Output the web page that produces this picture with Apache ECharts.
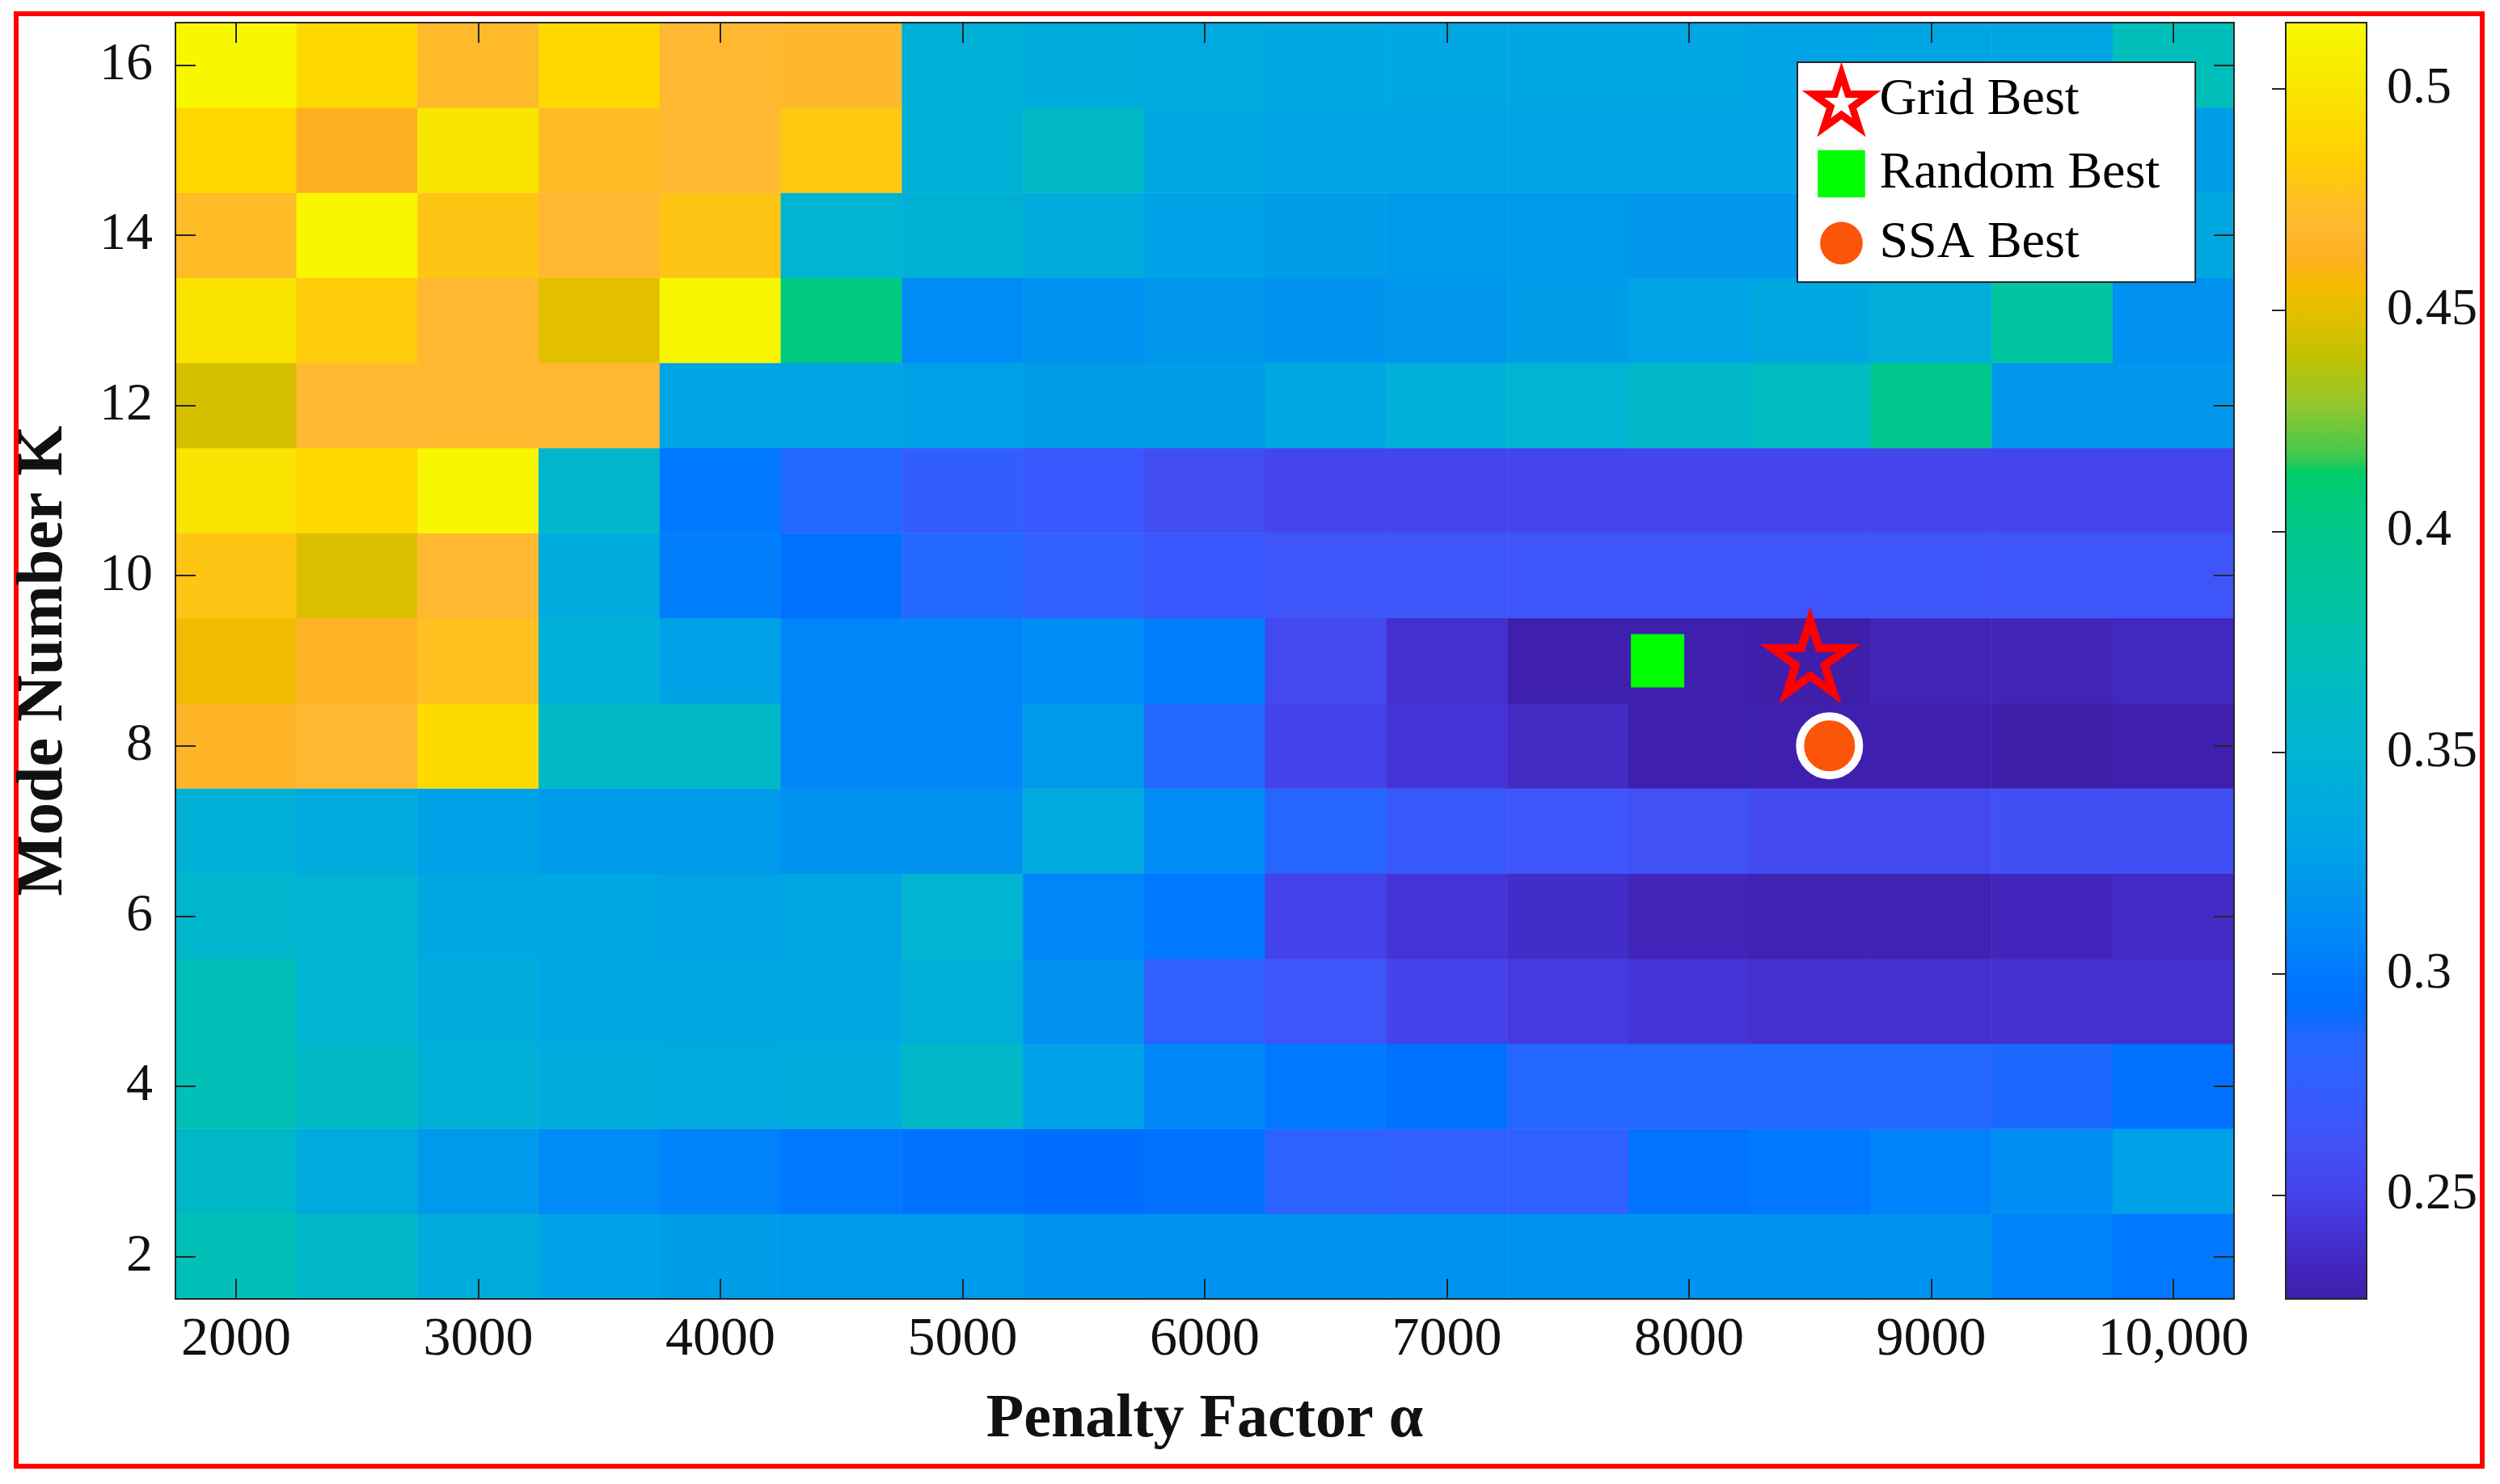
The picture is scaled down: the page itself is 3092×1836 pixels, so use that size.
<!DOCTYPE html>
<html>
<head>
<meta charset="utf-8">
<script src="https://cdn.jsdelivr.net/npm/echarts@6/dist/echarts.min.js"></script>
<style>
html,body{margin:0;padding:0;background:#fff;}
#chart{width:3092px;height:1836px;}
</style>
</head>
<body>
<div id="chart"></div>
<script>
// ---------- data ----------
const alphaValues = [2000,2500,3000,3500,4000,4500,5000,5500,6000,6500,7000,7500,8000,8500,9000,9500,10000];
const kValues = [2,3,4,5,6,7,8,9,10,11,12,13,14,15,16];
const xTickText = ['2000','3000','4000','5000','6000','7000','8000','9000','10,000'];
const cbarTicks = [0.25,0.3,0.35,0.4,0.45,0.5];

// values per mode number K, one entry per alpha
const k2  = [0.372,0.358,0.340,0.328,0.325,0.322,0.322,0.318,0.316,0.316,0.316,0.316,0.316,0.316,0.316,0.305,0.300];
const k3  = [0.358,0.337,0.322,0.310,0.305,0.300,0.295,0.292,0.295,0.280,0.278,0.278,0.296,0.300,0.305,0.313,0.327];
const k4  = [0.372,0.360,0.345,0.340,0.337,0.340,0.358,0.328,0.308,0.300,0.295,0.285,0.285,0.285,0.285,0.288,0.295];
const k5  = [0.372,0.350,0.340,0.335,0.332,0.335,0.342,0.315,0.277,0.265,0.250,0.246,0.243,0.240,0.240,0.240,0.240];
const k6  = [0.355,0.350,0.335,0.332,0.330,0.332,0.350,0.308,0.300,0.250,0.243,0.238,0.232,0.230,0.230,0.233,0.237];
const k7  = [0.345,0.337,0.328,0.322,0.322,0.316,0.316,0.337,0.310,0.283,0.270,0.265,0.262,0.256,0.256,0.260,0.260];
const k8  = [0.465,0.468,0.492,0.360,0.360,0.308,0.308,0.322,0.285,0.250,0.243,0.236,0.228,0.228,0.228,0.226,0.228];
const k9  = [0.455,0.465,0.475,0.345,0.328,0.307,0.307,0.310,0.303,0.255,0.240,0.228,0.228,0.227,0.232,0.232,0.235];
const k10 = [0.478,0.447,0.468,0.340,0.303,0.295,0.285,0.277,0.268,0.265,0.265,0.265,0.265,0.265,0.265,0.265,0.265];
const k11 = [0.498,0.490,0.513,0.355,0.300,0.285,0.275,0.268,0.258,0.252,0.252,0.252,0.252,0.252,0.252,0.252,0.252];
const k12 = [0.445,0.468,0.468,0.468,0.330,0.330,0.328,0.325,0.325,0.335,0.345,0.350,0.357,0.365,0.400,0.320,0.320];
const k13 = [0.498,0.482,0.468,0.450,0.513,0.405,0.310,0.316,0.320,0.318,0.320,0.325,0.330,0.335,0.343,0.385,0.315];
const k14 = [0.472,0.513,0.478,0.468,0.478,0.350,0.347,0.340,0.328,0.325,0.322,0.322,0.320,0.320,0.320,0.322,0.335];
const k15 = [0.490,0.462,0.500,0.472,0.468,0.480,0.345,0.360,0.335,0.330,0.330,0.330,0.330,0.330,0.330,0.330,0.325];
const k16 = [0.514,0.490,0.470,0.490,0.468,0.467,0.345,0.340,0.338,0.335,0.333,0.333,0.333,0.330,0.332,0.332,0.370];
const rowsByK = [k2,k3,k4,k5,k6,k7,k8,k9,k10,k11,k12,k13,k14,k15,k16];

// best points [alpha, K]
const gridBest = [[8500, 9]];
const randomBest = [[7870, 9]];
const ssaBest = [[8580, 8]];

const vmin = 0.2265, vmax = 0.515;

// colour map (value, colour)
const cmapStops = [
  [0.2265,'#3e1ea8'],[0.228,'#3f20ae'],[0.235,'#4328c0'],[0.243,'#4434d8'],
  [0.250,'#4442ea'],[0.256,'#434aef'],[0.262,'#4052f6'],[0.268,'#3a58fd'],
  [0.277,'#3060ff'],[0.284,'#2666ff'],[0.288,'#1c68ff'],[0.292,'#006eff'],
  [0.300,'#0078ff'],[0.308,'#0088f8'],[0.316,'#0092f0'],[0.322,'#009aea'],
  [0.330,'#00a4e6'],[0.340,'#00acdc'],[0.350,'#00b4d2'],[0.360,'#00b8c6'],
  [0.372,'#00c0b8'],[0.385,'#00c4a0'],[0.400,'#00c88c'],[0.413,'#00cc6c'],
  [0.417,'#40c84c'],[0.428,'#90c830'],[0.440,'#c4c000'],[0.447,'#dcc000'],
  [0.455,'#f2bc00'],[0.462,'#ffb020'],[0.468,'#ffb830'],[0.475,'#ffc020'],
  [0.482,'#ffcc08'],[0.490,'#ffd800'],[0.500,'#f8e600'],[0.515,'#f8f800']
];

function hex2rgb(h){return [parseInt(h.slice(1,3),16),parseInt(h.slice(3,5),16),parseInt(h.slice(5,7),16)];}
function cmap(v){
  if (v <= cmapStops[0][0]) return cmapStops[0][1];
  for (let i=1;i<cmapStops.length;i++){
    if (v <= cmapStops[i][0]){
      const a=cmapStops[i-1], b=cmapStops[i];
      const t=(v-a[0])/(b[0]-a[0]);
      const ca=hex2rgb(a[1]), cb=hex2rgb(b[1]);
      const c=ca.map((x,j)=>Math.round(x+(cb[j]-x)*t));
      return 'rgb('+c.join(',')+')';
    }
  }
  return cmapStops[cmapStops.length-1][1];
}
const sampled = [];
for (let i=0;i<=300;i++){ sampled.push(cmap(vmin+(vmax-vmin)*i/300)); }
const gradStops = cmapStops.map(s=>({offset:Math.min(1,Math.max(0,(s[0]-vmin)/(vmax-vmin))), color:s[1]}));

const heatData = [];
rowsByK.forEach((row, yi)=>{ row.forEach((v, xi)=>{ heatData.push([xi, yi, v]); }); });

const FONT = 'Liberation Serif';
const AX = '#262626';
const starPath = 'path://M0,-100L22.45,-30.9L95.11,-30.9L36.33,11.8L58.78,80.9L0,38.2L-58.78,80.9L-36.33,11.8L-95.11,-30.9L-22.45,-30.9Z';
const starIcon = 'path://M-114,-118M114,99M0,-100L22.45,-30.9L95.11,-30.9L36.33,11.8L58.78,80.9L0,38.2L-58.78,80.9L-36.33,11.8L-95.11,-30.9L-22.45,-30.9Z';
const squareIcon = 'path://M-11,-11M71,71M0,0H60V60H0Z';
const circleIcon = 'path://M-14,-14M68,68M0,27A27,27,0,1,1,54,27A27,27,0,1,1,0,27Z';

const plot = {left:217, top:28, width:2546, height:1579};
const xCats = alphaValues.map(String);
const yCats = kValues.map(String);

const catTick = {show:true, inside:true, length:25, interval:1, alignWithLabel:true, lineStyle:{color:AX, width:2}};

const option = {
  animation:false,
  backgroundColor:'#fff',
  graphic:[{type:'rect', z:-1, shape:{x:20,y:17,width:3050,height:1797}, style:{fill:'none', stroke:'#ff0000', lineWidth:6}}],
  grid:[
    Object.assign({}, plot),
    Object.assign({}, plot),
    {left:2827, top:28, width:100, height:1579}
  ],
  visualMap:{type:'continuous', show:false, min:vmin, max:vmax, seriesIndex:0, dimension:2, inRange:{color:sampled}},
  xAxis:[
    {type:'category', gridIndex:0, data:xCats, position:'bottom', z:10,
     axisLine:{show:true, lineStyle:{color:AX, width:2}}, axisTick:catTick,
     axisLabel:{interval:1, fontFamily:FONT, fontSize:68, color:'#111', margin:17,
       formatter:(v, idx)=> (idx%2===0 ? xTickText[idx/2] : '')},
     splitLine:{show:false},
     name:'Penalty Factor α', nameLocation:'middle', nameGap:112,
     nameTextStyle:{fontFamily:FONT, fontSize:76, fontWeight:'bold', color:'#111'}},
    {type:'category', gridIndex:0, data:xCats, position:'top', z:10,
     axisLine:{show:true, lineStyle:{color:AX, width:2}}, axisTick:catTick,
     axisLabel:{show:false}, splitLine:{show:false}},
    {type:'value', gridIndex:1, min:1750, max:10250, show:false},
    {type:'value', gridIndex:2, min:0, max:1, show:false}
  ],
  yAxis:[
    {type:'category', gridIndex:0, data:yCats, position:'left', z:10,
     axisLine:{show:true, lineStyle:{color:AX, width:2}}, axisTick:catTick,
     axisLabel:{interval:1, fontFamily:FONT, fontSize:66, color:'#111', margin:28, padding:[0,0,14,0]},
     splitLine:{show:false},
     name:'Mode Number K', nameLocation:'middle', nameGap:122,
     nameTextStyle:{fontFamily:FONT, fontSize:80, fontWeight:'bold', color:'#111'}},
    {type:'category', gridIndex:0, data:yCats, position:'right', z:10,
     axisLine:{show:true, lineStyle:{color:AX, width:2}}, axisTick:catTick,
     axisLabel:{show:false}, splitLine:{show:false}},
    {type:'value', gridIndex:1, min:1.5, max:16.5, show:false},
    {type:'value', gridIndex:2, min:vmin, max:vmax, position:'right', z:10,
     axisLine:{show:false},
     axisTick:{show:true, inside:true, length:17, customValues:cbarTicks, lineStyle:{color:AX, width:2}},
     axisLabel:{customValues:cbarTicks, fontFamily:FONT, fontSize:64, color:'#111', margin:25, padding:[0,0,18,0]},
     splitLine:{show:false}}
  ],
  legend:{
    orient:'vertical', left:2223, top:77, padding:[3,44,8,8],
    itemWidth:84, itemHeight:80, itemGap:6, selectedMode:false,
    backgroundColor:'#fff', borderColor:AX, borderWidth:2, borderRadius:0, z:20,
    textStyle:{fontFamily:FONT, fontSize:64, color:'#000'},
    data:[
      {name:'Grid Best', icon:starIcon, itemStyle:{color:'#ffffff', borderColor:'#ff0000', borderWidth:9}},
      {name:'Random Best', icon:squareIcon, itemStyle:{borderWidth:0}},
      {name:'SSA Best', icon:circleIcon, itemStyle:{borderWidth:0}}
    ]
  },
  series:[
    {type:'heatmap', xAxisIndex:0, yAxisIndex:0, data:heatData, emphasis:{disabled:true}, z:2},
    {type:'scatter', name:'Grid Best', xAxisIndex:2, yAxisIndex:2, data:gridBest, z:6,
     symbol:starPath, symbolSize:[94,90], symbolOffset:[0,-5],
     itemStyle:{color:'rgba(0,0,0,0)', borderColor:'#ff0000', borderWidth:10, opacity:1}},
    {type:'scatter', name:'Random Best', xAxisIndex:2, yAxisIndex:2, data:randomBest, z:6,
     symbol:'rect', symbolSize:66, itemStyle:{color:'#00ff00', opacity:1}},
    {type:'scatter', name:'SSA Best', xAxisIndex:2, yAxisIndex:2, data:ssaBest, z:6,
     symbol:'circle', symbolSize:73, itemStyle:{color:'#fa5509', borderColor:'#ffffff', borderWidth:10, opacity:1}},
    {type:'custom', xAxisIndex:3, yAxisIndex:3, data:[[0, vmin, vmax]], z:3, silent:true,
     renderItem:(params, api)=>{
       const p0 = api.coord([0, vmax]);
       const p1 = api.coord([1, vmin]);
       return {type:'rect', shape:{x:p0[0], y:p0[1], width:p1[0]-p0[0], height:p1[1]-p0[1]},
         style:{fill:new echarts.graphic.LinearGradient(0,1,0,0,gradStops), stroke:AX, lineWidth:2}};
     }}
  ]
};

const chart = echarts.init(document.getElementById('chart'));
chart.setOption(option);
</script>
</body>
</html>
